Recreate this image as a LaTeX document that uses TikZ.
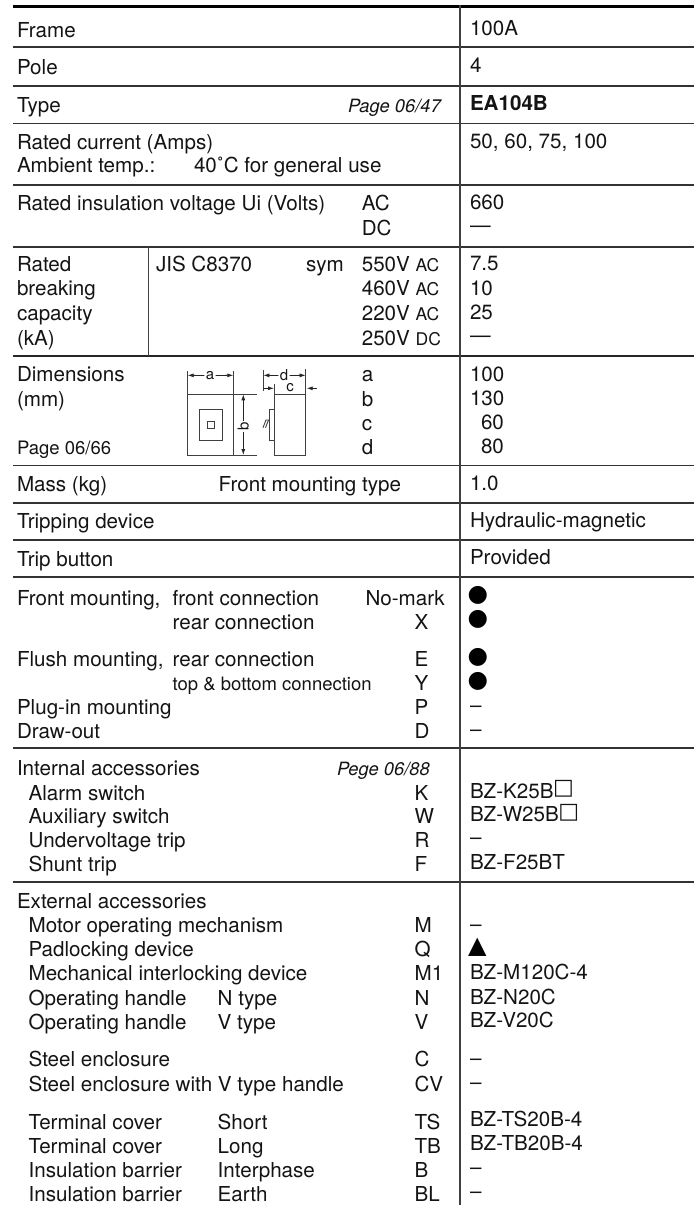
\documentclass[tikz,border=0pt]{standalone}
\usepackage{fontspec}
\setmainfont{TeX Gyre Heros}
\newfontfamily\symfont{DejaVu Sans}
\usetikzlibrary{arrows.meta}
\tikzset{
  txt/.style={anchor=base west,inner sep=0pt,outer sep=0pt,text=black!92,font=\fontsize{20.6}{23}\selectfont},
  small/.style={font=\fontsize{18.5}{21}\selectfont},
  smalli/.style={font=\fontsize{18.3}{21}\selectfont\itshape},
  dim/.style={font=\fontsize{15}{17}\selectfont},
  rule/.style={draw=black!80,line width=1.3pt},
  thick rule/.style={draw=black!85,line width=1.8pt},
  top rule/.style={draw=black,line width=3pt},
  vrule/.style={draw=black!75,line width=1.1pt},
  fig/.style={draw=black!75,line width=0.9pt},
  arr/.style={draw=black!85,line width=0.8pt,-{Latex[length=6pt,width=4pt]}},
  dot/.style={inner sep=0pt,outer sep=0pt,anchor=center,text=black,font=\symfont\fontsize{23.5}{26}\selectfont},
  tri/.style={inner sep=0pt,outer sep=0pt,anchor=center,text=black,font=\symfont\fontsize{24}{27}\selectfont},
}
\newcommand{\T}[5][]{\node[txt,#1] (#2) at (#3,#4) {#5};}
\newcommand{\sq}{\hspace*{-0.5pt}\raisebox{3.2pt}{\symfont\fontsize{22}{24}\selectfont □}}
\newcommand{\un}[1]{{\fontsize{17.5}{20}\selectfont #1}}
\begin{document}
\begin{tikzpicture}[x=1pt,y=-1pt]
\useasboundingbox (0,0) rectangle (699,1205);
\fill[white] (0,0) rectangle (699,1205);
% rules
\coordinate (tl) at (13.4,6); \coordinate (tr) at (693.7,6);
\draw[top rule] (tl) -- (tr);
\foreach \yy in {47,86,123.5,185,247,465.5,503,540,577,748,882}
  \draw[rule] (13.4,\yy) -- (693.7,\yy);
\draw[thick rule] (13.4,356) -- (693.7,356);
\coordinate (vt) at (460,5); \coordinate (vb) at (460,1205);
\draw[vrule] (vt) -- (vb);
\coordinate (ut) at (148.6,247); \coordinate (ub) at (148.6,356);
\draw[vrule] (ut) -- (ub);
% left column
\T{frame}{17}{37.5}{Frame}
\T{pole}{17}{74}{Pole}
\T{type}{17}{112.4}{Type}
\T[smalli]{p47}{348}{112.4}{Page 06/47}
\T{rc}{17}{149}{Rated current (Amps)}
\T{amb}{17}{172.5}{Ambient temp.:}
\T{amb2}{194}{172.5}{40˚C for general use}
\T{riv}{17}{210}{Rated insulation voltage Ui (Volts)}
\T{ac}{361.8}{210}{AC}
\T{dc}{361.8}{235}{DC}
\T{rated}{17}{271.7}{Rated}
\T{breaking}{17}{295}{breaking}
\T{capacity}{17}{320.7}{capacity}
\T{ka}{17}{345}{(kA)}
\T{jis}{156}{271.7}{JIS C8370}
\T{sym}{306}{271.7}{sym}
\T{v550}{361.8}{271.7}{550V \un{AC}}
\T{v460}{361.8}{295}{460V \un{AC}}
\T{v220}{361.8}{320.7}{220V \un{AC}}
\T{v250}{361.8}{345}{250V \un{DC}}
\T{dims}{17}{381.7}{Dimensions}
\T{mm}{17}{406}{(mm)}
\T[small]{p66}{17}{454}{Page 06/66}
\T{la}{361.8}{381.7}{a}
\T{lb}{361.8}{406}{b}
\T{lc}{361.8}{430}{c}
\T{ld}{361.8}{454}{d}
\T{mass}{17}{491}{Mass (kg)}
\T{fmt}{218.7}{491}{Front mounting type}
\T{trip}{17}{528}{Tripping device}
\T{btn}{17}{566.7}{Trip button}
\T{fm}{17}{605}{Front mounting,}
\T{fc}{172.7}{605}{front connection}
\T{nm}{365.5}{605}{No-mark}
\T{rc1}{172.7}{629}{rear connection}
\T{x}{414.6}{629}{X}
\T{flm}{17}{666}{Flush mounting,}
\T{rc2}{172.7}{666}{rear connection}
\T{e}{414.6}{666}{E}
\T[small]{tb}{172.7}{690}{top \& bottom connection}
\T{y}{414.6}{690}{Y}
\T{pl}{17}{714}{Plug-in mounting}
\T{p}{414.6}{714}{P}
\T{dr}{17}{738}{Draw-out}
\T{d}{414.6}{738}{D}
\T{ia}{17}{775.7}{Internal accessories}
\T[smalli]{p88}{337}{775.7}{Pege 06/88}
\T{al}{28.6}{800}{Alarm switch}
\T{k}{414.6}{800}{K}
\T{au}{28.6}{823.3}{Auxiliary switch}
\T{w}{414.6}{823.3}{W}
\T{uv}{28.6}{847.7}{Undervoltage trip}
\T{r}{414.6}{847.7}{R}
\T{sh}{28.6}{871}{Shunt trip}
\T{f}{414.6}{871}{F}
\T{ea}{17}{908.3}{External accessories}
\T{mo}{28.6}{932.7}{Motor operating mechanism}
\T{m}{414.6}{932.7}{M}
\T{pa}{28.6}{956.7}{Padlocking device}
\T{q}{414.6}{956.7}{Q}
\T{me}{28.6}{980.7}{Mechanical interlocking device}
\T{m1}{414.6}{980.7}{M1}
\T{oh1}{28.6}{1005}{Operating handle}
\T{nt}{217.7}{1005}{N type}
\T{n}{414.6}{1005}{N}
\T{oh2}{28.6}{1029}{Operating handle}
\T{vt2}{217.7}{1029}{V type}
\T{v}{414.6}{1029}{V}
\T{st}{28.6}{1066.7}{Steel enclosure}
\T{c}{414.6}{1066.7}{C}
\T{stv}{28.6}{1091}{Steel enclosure with V type handle}
\T{cv}{414.6}{1091}{CV}
\T{tc1}{28.6}{1129}{Terminal cover}
\T{sht}{217.7}{1129}{Short}
\T{ts}{414.6}{1129}{TS}
\T{tc2}{28.6}{1153}{Terminal cover}
\T{lng}{217.7}{1153}{Long}
\T{tbb}{414.6}{1153}{TB}
\T{ib1}{28.6}{1177.3}{Insulation barrier}
\T{ip}{217.7}{1177.3}{Interphase}
\T{b}{414.6}{1177.3}{B}
\T{ib2}{28.6}{1201}{Insulation barrier}
\T{er}{217.7}{1201}{Earth}
\T{bl}{414.6}{1201}{BL}
% right column
\T{r1}{470}{35.3}{100A}
\T{r2}{470}{72.3}{4}
\T{r3}{470}{110.5}{\bfseries EA104B}
\T{r4}{470}{148}{50, 60, 75, 100}
\T{r5}{470}{209.3}{660}
\T{r6}{470}{232}{—}
\T{r7}{470}{270.7}{7.5}
\T{r8}{470}{295}{10}
\T{r9}{470}{319}{25}
\T{r10}{470}{342}{—}
\T{r11}{470}{381}{100}
\T{r12}{470}{405}{130}
\T{r13}{481}{429}{60}
\T{r14}{481}{453}{80}
\T{r15}{470}{490}{1.0}
\T{r16}{470}{527.7}{Hydraulic-magnetic}
\T{r17}{470}{564}{Provided}
\node[dot] (d1) at (477.9,595.7) {●};
\node[dot] (d2) at (477.9,619.7) {●};
\node[dot] (d3) at (477.9,657.7) {●};
\node[dot] (d4) at (477.9,681.7) {●};
\T{r18}{470}{712}{–}
\T{r19}{470}{736}{–}
\T{r20}{470}{798}{BZ-K25B\sq}
\T{r21}{470}{821.7}{BZ-W25B\sq}
\T{r22}{470}{844.5}{–}
\T{r23}{470}{869.3}{BZ-F25BT}
\T{r24}{470}{931}{–}
\node[tri] (t1) at (477.3,947.5) {▲};
\T{r25}{470}{979}{BZ-M120C-4}
\T{r26}{470}{1004}{BZ-N20C}
\T{r27}{470}{1027}{BZ-V20C}
\T{r28}{470}{1065.5}{–}
\T{r29}{470}{1089.5}{–}
\T{r30}{470}{1126.7}{BZ-TS20B-4}
\T{r31}{470}{1150.7}{BZ-TB20B-4}
\T{r32}{470}{1174.5}{–}
\T{r33}{470}{1198}{–}
% dimension sketch
\draw[fig] (187.7,394.3) rectangle (233.3,455);
\draw[fig] (199.3,409.3) rectangle (222.3,440);
\draw[fig] (207,421.3) rectangle (214.3,428.7);
\draw[fig] (233.3,394.3) -- (256.7,394.3);
\draw[fig] (233.3,455) -- (256.7,455);
\draw[fig] (187.7,371) -- (187.7,394.3);
\draw[fig] (233.3,371) -- (233.3,394.3);
\node[txt,dim,anchor=center] (fa) at (210,375.5) {a};
\draw[arr] (fa.west) ++(-1.5,0) -- (187.7,375.3);
\draw[arr] (fa.east) ++(1.5,0) -- (233.3,375.3);
\node[txt,dim,anchor=center,rotate=90] (fb) at (243.3,426.7) {b};
\draw[arr] (fb.east) ++(0,-1.5) -- (243.3,394.3);
\draw[arr] (fb.west) ++(0,1.5) -- (243.3,455);
\draw[fig] (274,394.3) rectangle (305.7,455);
\draw[fig] (274,409.3) -- (269.3,409.3) -- (269.3,440) -- (274,440);
\draw[fig] (263,427.7) -- (266,420) -- (269.3,420);
\draw[fig] (265.5,427.7) -- (268.5,420);
\draw[fig] (263.3,370) -- (263.3,390.7);
\draw[fig] (305.7,369.3) -- (305.7,394.3);
\draw[fig] (274,384) -- (274,394.3);
\node[txt,dim,anchor=center] (fd) at (284,375.5) {d};
\draw[arr] (fd.west) ++(-1.5,0) -- (263.3,375.3);
\draw[arr] (fd.east) ++(1.5,0) -- (305.7,375.3);
\node[txt,dim,anchor=center] (fc2) at (290,388) {c};
\coordinate (c1) at (263.3,388.3); \coordinate (c2) at (274,388.3);
\coordinate (c3) at (316.7,388.3); \coordinate (c4) at (306.7,388.3);
\draw[arr] (c1) -- (c2);
\draw[arr] (c3) -- (c4);
\end{tikzpicture}
\end{document}
